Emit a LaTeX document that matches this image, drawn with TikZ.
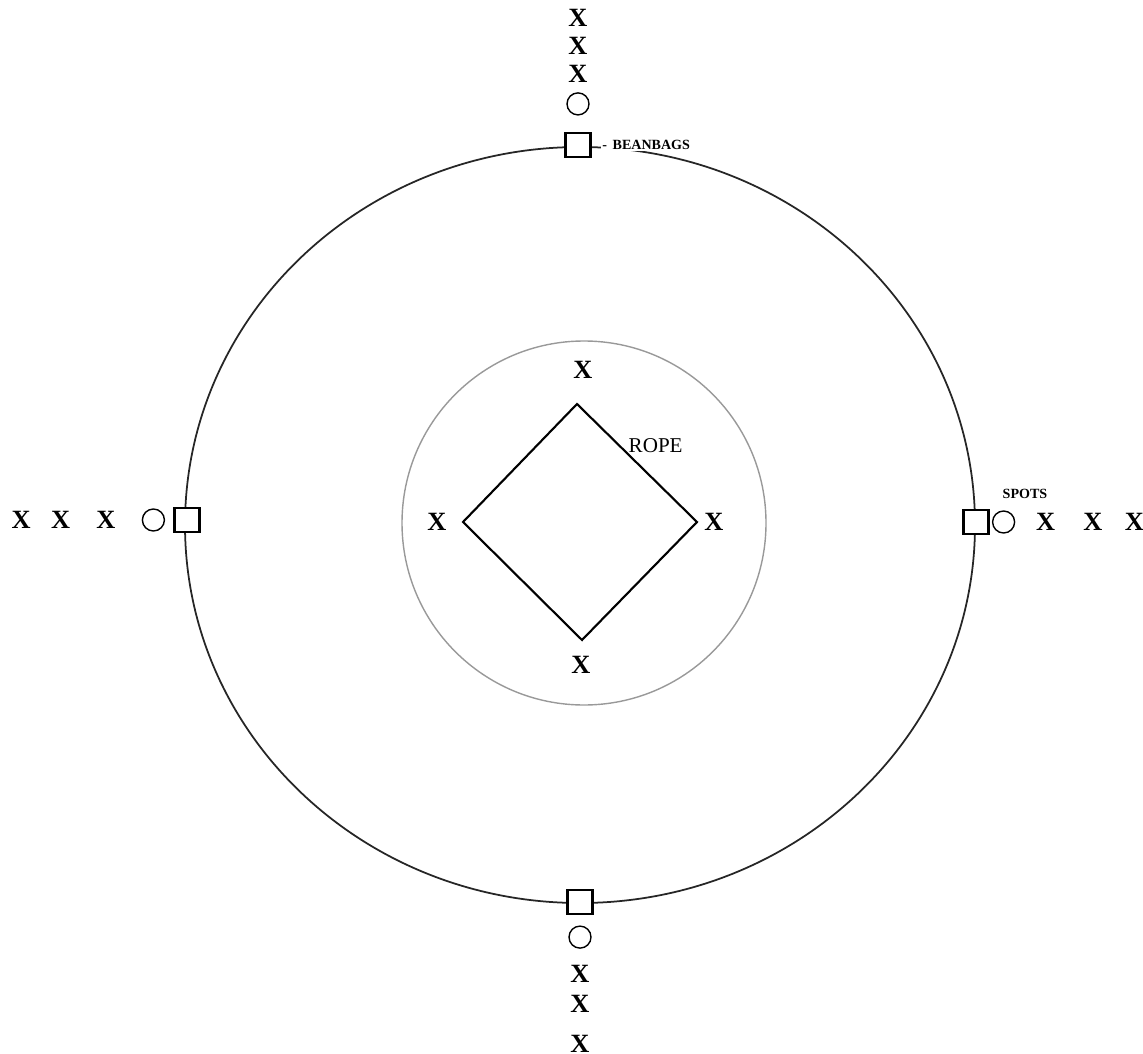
\documentclass[tikz,border=0pt]{standalone}
\usepackage{fontspec}
\setmainfont{Liberation Serif}
\usetikzlibrary{positioning}

\begin{document}
\begin{tikzpicture}[
    player/.style={font=\fontsize{7.5}{8}\selectfont\bfseries, inner sep=0pt},
    bag/.style={draw, thick, fill=white, minimum width=0.25cm, minimum height=0.24cm, inner sep=0pt},
    spot/.style={draw, thin, circle, fill=white, minimum size=0.22cm, inner sep=0pt},
    tag/.style={font=\fontsize{4}{4}\selectfont\bfseries, inner sep=0.5pt, fill=white},
    ring/.style={line width=0.5pt, black!85},
    rope/.style={line width=0.6pt}
  ]
    \useasboundingbox (0,0) rectangle (11.43,-10.54);

    % outer and inner rings
    \draw[ring] (5.80,-5.25) ellipse [x radius=3.95, y radius=3.78];
    \draw[ring, black!40, line width=0.4pt] (5.84,-5.23) circle [radius=1.82];

    % rope square
    \coordinate (ropeN) at (5.77,-4.04);
    \coordinate (ropeE) at (6.97,-5.22);
    \coordinate (ropeS) at (5.82,-6.40);
    \coordinate (ropeW) at (4.63,-5.22);
    \draw[rope] (ropeN) -- (ropeE) -- (ropeS) -- (ropeW) -- cycle;
    \node[font=\fontsize{6}{7}\selectfont, inner sep=0pt, anchor=south west] (ropelabel) at (6.28,-4.53) {ROPE};

    % players inside
    \node[player] (inN) at (5.83,-3.70) {X};
    \node[player] (inW) at (4.37,-5.22) {X};
    \node[player] (inE) at (7.14,-5.22) {X};
    \node[player] (inS) at (5.81,-6.65) {X};

    % north station
    \node[bag] (bagN) at (5.78,-1.45) {};
    \node[spot, above=0.16cm of bagN] (spotN) {};
    \node[player, above=0.09cm of spotN] (xN1) {X};
    \node[player, above=0.095cm of xN1] (xN2) {X};
    \node[player, above=0.095cm of xN2] (xN3) {X};
    \node[tag, right=0.08cm of bagN] (beanbags) {-\hspace{0.4em}BEANBAGS};

    % west station
    \node[bag] (bagW) at (1.87,-5.20) {};
    \node[spot, left=0.08cm of bagW] (spotW) {};
    \node[player, left=0.255cm of spotW] (xW1) {X};
    \node[player, left=0.25cm of xW1] (xW2) {X};
    \node[player, left=0.19cm of xW2] (xW3) {X};

    % east station
    \node[bag] (bagE) at (9.76,-5.22) {};
    \node[spot, right=0.02cm of bagE] (spotE) {};
    \node[player, right=0.2cm of spotE] (xE1) {X};
    \node[player, right=0.27cm of xE1] (xE2) {X};
    \node[player, right=0.21cm of xE2] (xE3) {X};
    \node[tag, fill=none, anchor=south] (spots) at (10.25,-5.01) {SPOTS};

    % south station
    \node[bag] (bagS) at (5.80,-9.02) {};
    \node[spot, below=0.10cm of bagS] (spotS) {};
    \node[player, below=0.16cm of spotS] (xS1) {X};
    \node[player, below=0.115cm of xS1] (xS2) {X};
    \node[player, below=0.21cm of xS2] (xS3) {X};
\end{tikzpicture}
\end{document}
